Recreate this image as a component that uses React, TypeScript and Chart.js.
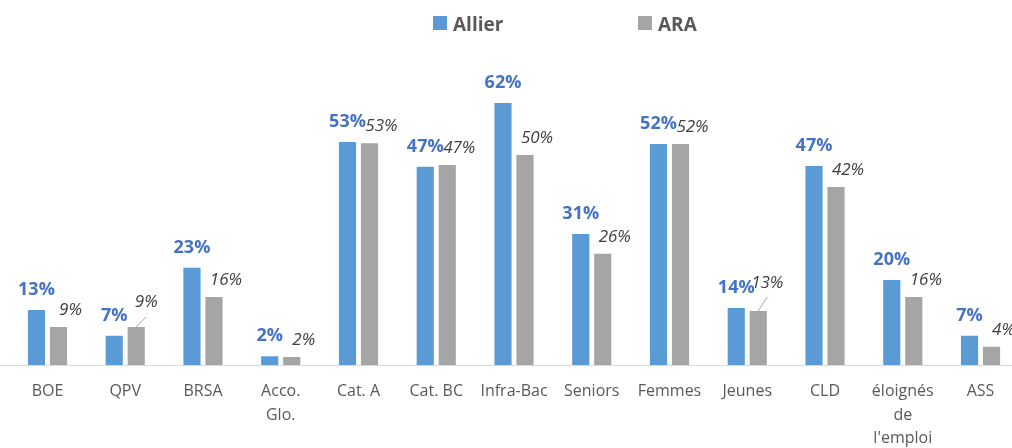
import React, { useEffect, useRef } from "react";
import { Chart, registerables } from "chart.js";

Chart.register(...registerables);

const categories: string[][] = [
  ["BOE"],
  ["QPV"],
  ["BRSA"],
  ["Acco.", "Glo."],
  ["Cat. A"],
  ["Cat. BC"],
  ["Infra-Bac"],
  ["Seniors"],
  ["Femmes"],
  ["Jeunes"],
  ["CLD"],
  ["éloignés", "de", "l'emploi"],
  ["ASS"],
];
const seriesNames = ["Allier", "ARA"];
const allierValues = [13.0, 6.9, 23.0, 2.1, 52.8, 46.9, 62.0, 31.0, 52.3, 13.5, 47.1, 20.1, 6.9];
const araValues = [9.0, 9.0, 16.1, 1.9, 52.5, 47.3, 49.7, 26.3, 52.3, 12.8, 42.1, 16.1, 4.3];

const BLUE = "#5B9BD5";
const GRAY = "#A5A5A5";
const FONT = "'Open Sans', 'DejaVu Sans', sans-serif";

// style tweaks for labels that Excel moved (with leader lines)
const araLabelStyle: Record<number, { dx: number; dy: number; lx: number; ly: number }> = {
  1: { dx: 10, dy: 20, lx: 10, ly: 10 },
  9: { dx: 9, dy: 23, lx: 9, ly: 14 },
};

const labelsPlugin = {
  id: "customLabels",
  beforeDatasetsDraw(chart: any) {
    // extend the axis line to the left edge, as in the original
    const ctx = chart.ctx;
    const y = chart.scales.y.getPixelForValue(0);
    ctx.save();
    ctx.strokeStyle = "#D9D9D9";
    ctx.lineWidth = 1;
    ctx.beginPath();
    ctx.moveTo(0, Math.round(y) + 0.5);
    ctx.lineTo(chart.chartArea.left + 1, Math.round(y) + 0.5);
    ctx.stroke();
    ctx.restore();
  },
  afterDatasetsDraw(chart: any) {
    const ctx = chart.ctx;
    ctx.save();
    // Allier labels
    const m0 = chart.getDatasetMeta(0);
    ctx.font = `bold 18px ${FONT}`;
    ctx.fillStyle = "#4472C4";
    ctx.textAlign = "center";
    ctx.textBaseline = "alphabetic";
    m0.data.forEach((bar: any, i: number) => {
      ctx.fillText(Math.round(allierValues[i]) + "%", bar.x, bar.y - 15);
    });
    // ARA labels
    const m1 = chart.getDatasetMeta(1);
    ctx.font = `italic 17px ${FONT}`;
    ctx.fillStyle = "#404040";
    m1.data.forEach((bar: any, i: number) => {
      const s = araLabelStyle[i];
      const dx = s ? s.dx : 12;
      const dy = s ? s.dy : 12;
      ctx.fillText(Math.round(araValues[i]) + "%", bar.x + dx, bar.y - dy);
      if (s) {
        ctx.strokeStyle = "#A6A6A6";
        ctx.lineWidth = 1;
        ctx.beginPath();
        ctx.moveTo(bar.x, bar.y);
        ctx.lineTo(bar.x + s.lx, bar.y - s.ly);
        ctx.stroke();
      }
    });
    ctx.restore();
  },
  afterDraw(chart: any) {
    const ctx = chart.ctx;
    ctx.save();
    const items = [
      { x: 433, color: BLUE, text: seriesNames[0] },
      { x: 638, color: GRAY, text: seriesNames[1] },
    ];
    ctx.font = `bold 19px ${FONT}`;
    ctx.textAlign = "left";
    ctx.textBaseline = "alphabetic";
    items.forEach((it) => {
      ctx.fillStyle = it.color;
      ctx.fillRect(it.x, 16, 14, 14);
      ctx.fillStyle = "#595959";
      ctx.fillText(it.text, it.x + 20, 31);
    });
    ctx.restore();
  },
};

export default function App() {
  const ref = useRef<HTMLCanvasElement | null>(null);
  useEffect(() => {
    if (!ref.current) return;
    const chart = new Chart(ref.current, {
      type: "bar",
      data: {
        labels: categories,
        datasets: [
          {
            label: seriesNames[0],
            data: allierValues,
            backgroundColor: BLUE,
            categoryPercentage: 0.566,
            barPercentage: 0.78,
          },
          {
            label: seriesNames[1],
            data: araValues,
            backgroundColor: GRAY,
            categoryPercentage: 0.566,
            barPercentage: 0.78,
          },
        ],
      },
      options: {
        responsive: false,
        animation: false,
        layout: { padding: { top: 69.2, left: 8.6, right: 0.6, bottom: 0 } },
        plugins: {
          legend: { display: false },
          tooltip: { enabled: false },
        },
        scales: {
          x: {
            grid: { display: false },
            border: { display: true, color: "#D9D9D9", width: 1 },
            ticks: {
              color: "#595959",
              font: { family: FONT, size: 16, lineHeight: 1.47 },
              padding: 7,
              maxRotation: 0,
              autoSkip: false,
            },
            afterFit: (s: any) => {
              s.height = 83;
            },
          },
          y: {
            display: false,
            min: 0,
            max: 70,
          },
        },
      },
      plugins: [labelsPlugin],
    });
    return () => chart.destroy();
  }, []);
  return (
    <div style={{ position: "fixed", left: 0, top: 0, width: 1012, height: 448, overflow: "hidden", background: "#fff" }}>
      <canvas ref={ref} width={1020} height={448} style={{ display: "block" }} />
    </div>
  );
}
